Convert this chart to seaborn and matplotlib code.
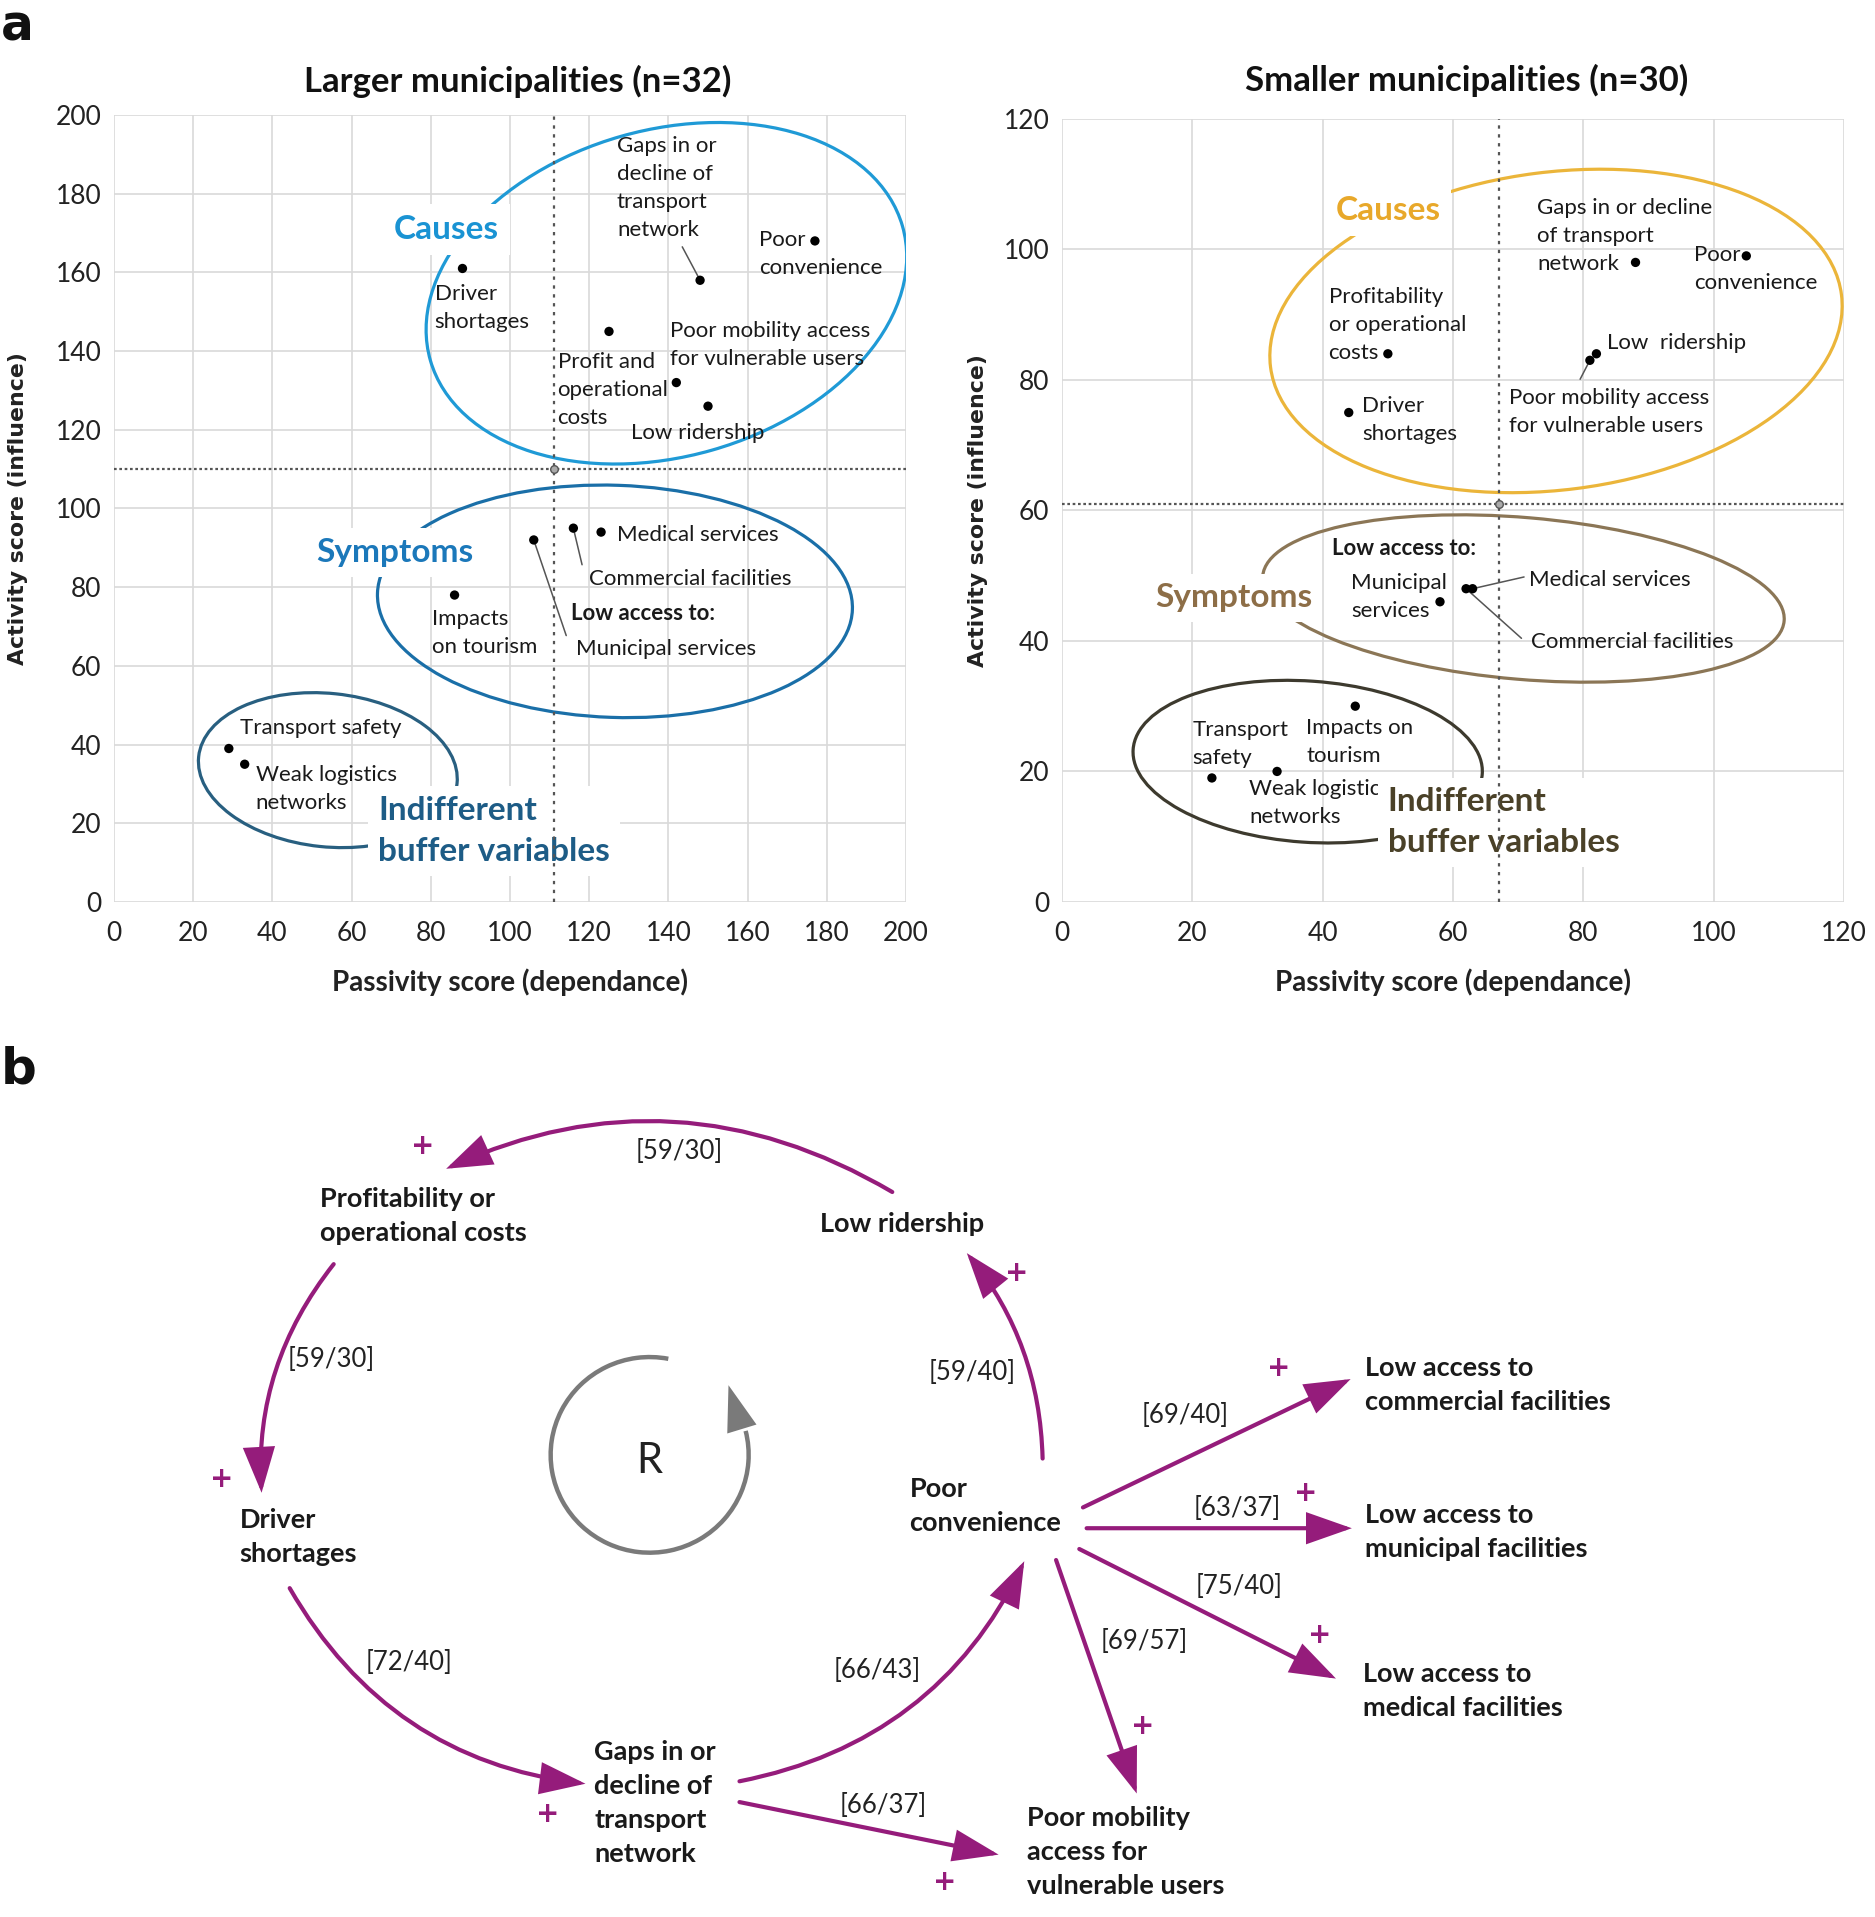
import numpy as np
import pandas as pd
import matplotlib
matplotlib.use("Agg")
import matplotlib.pyplot as plt
import seaborn as sns
from matplotlib.patches import Ellipse, Arc, FancyArrowPatch, ArrowStyle

# ------------------------------------------------------------------ data
large_vars = ["Gaps in or decline of transport network", "Poor convenience",
              "Driver shortages", "Profit and operational costs",
              "Poor mobility access for vulnerable users", "Low ridership",
              "Medical services", "Commercial facilities", "Municipal services",
              "Impacts on tourism", "Transport safety", "Weak logistics networks"]
large_passivity = [148, 177, 88, 125, 142, 150, 123, 116, 106, 86, 29, 33]
large_activity = [158, 168, 161, 145, 132, 126, 94, 95, 92, 78, 39, 35]
large_mean = [111, 110]

small_vars = ["Gaps in or decline of transport network", "Poor convenience",
              "Profitability or operational costs", "Low ridership",
              "Poor mobility access for vulnerable users", "Driver shortages",
              "Medical services", "Commercial facilities", "Municipal services",
              "Impacts on tourism", "Transport safety", "Weak logistic networks"]
small_passivity = [88, 105, 50, 82, 81, 44, 63, 62, 58, 45, 23, 33]
small_activity = [98, 99, 84, 84, 83, 75, 48, 48, 46, 30, 19, 20]
small_mean = [67, 61]

ticks_large = list(range(0, 201, 20))
ticks_small = list(range(0, 121, 20))

loop_nodes = ["Profitability or\noperational costs", "Low ridership",
              "Driver\nshortages", "Poor\nconvenience",
              "Gaps in or\ndecline of\ntransport\nnetwork",
              "Low access to\ncommercial facilities",
              "Low access to\nmunicipal facilities",
              "Low access to\nmedical facilities",
              "Poor mobility\naccess for\nvulnerable users"]
edge_from = [1, 0, 2, 4, 3, 3, 3, 3, 3, 4]
edge_to = [0, 2, 4, 3, 1, 5, 6, 7, 8, 8]
edge_labels = ["[59/30]", "[59/30]", "[72/40]", "[66/43]", "[59/40]",
               "[69/40]", "[63/37]", "[75/40]", "[69/57]", "[66/37]"]
edge_positive = [True, True, True, False, True, True, True, True, True, True]

# ------------------------------------------------------------------ style
sns.set_theme(style="whitegrid", rc={"grid.color": "#d9d9d9", "grid.linewidth": 1.2})
plt.rcParams['font.family'] = ['Lato', 'DejaVu Sans']

fig = plt.figure(figsize=(18.75, 19.17), dpi=100)

# overlay axes for diagram and panel letters (coords of a 1534x1568 canvas)
axD = fig.add_axes([0, 0, 1, 1])
axD.set_xlim(0, 1534)
axD.set_ylim(1568, 0)
axD.axis('off')

axL = fig.add_axes([0.0608, 0.5295, 0.4224, 0.4105])
axR = fig.add_axes([0.5664, 0.5295, 0.4171, 0.4085])

LBL = 16


def setup(ax, ticks, title, title_x, ylab_x, tpad):
    ax.set_xlim(ticks[0], ticks[-1])
    ax.set_ylim(ticks[0], ticks[-1])
    ax.set_xticks(ticks)
    ax.set_yticks(ticks)
    ax.tick_params(axis='both', length=0, labelsize=19, colors='#222222')
    ax.tick_params(axis='x', pad=14)
    ax.tick_params(axis='y', pad=9)
    for s in ax.spines.values():
        s.set_visible(False)
    ax.set_axisbelow(True)
    ax.set_title(title, fontsize=25, fontweight='bold', x=title_x, pad=tpad, color='#111111')
    ax.set_xlabel("Passivity score (dependance)", fontsize=20, fontweight='bold', color='#222222')
    ax.set_ylabel("Activity score (influence)", fontsize=15.8, fontweight='bold',
                  family='DejaVu Sans', color='#222222')
    ax.xaxis.set_label_coords(0.5, -0.085)
    ax.yaxis.set_label_coords(ylab_x, 0.5)


def panel(ax, names, px, py, mean, labels, leaders, groups, ellipses):
    df = pd.DataFrame({"variable": names, "passivity": px, "activity": py})
    ax.axvline(mean[0], color='#555555', ls=(0, (1.5, 2.5)), lw=1.6, zorder=4)
    ax.axhline(mean[1], color='#555555', ls=(0, (1.2, 1.2)), lw=1.6, zorder=4)
    for (cx, cy, w, h, ang, col) in ellipses:
        ax.add_patch(Ellipse((cx, cy), w, h, angle=ang, fill=False, ec=col, lw=2.3, zorder=2))
    for (txt, x, y, bold) in labels:
        ax.text(x, y, txt, ha='left', va='center', fontsize=LBL, color='#1a1a1a',
                fontweight='bold' if bold else 'normal', linespacing=1.5, zorder=3)
    for (x0, y0, x1, y1) in leaders:
        ax.plot([x0, x1], [y0, y1], color='#555555', lw=1.1, zorder=4)
    for (txt, x, y, ha, col, pad) in groups:
        ax.text(x, y, txt, ha=ha, va='center', fontsize=24, fontweight='bold', color=col,
                linespacing=1.5, zorder=3.5,
                bbox=dict(facecolor='white', edgecolor='none', pad=pad))
    sns.scatterplot(data=df, x="passivity", y="activity", ax=ax, color='black', s=45,
                    edgecolor='none', zorder=5, legend=False)
    ax.scatter([mean[0]], [mean[1]], s=30, facecolor='#aaaaaa', edgecolor='#555555',
               lw=1, zorder=5)


setup(axL, ticks_large, "Larger municipalities (n=32)", 0.51, -0.108, 16.5)
setup(axR, ticks_small, "Smaller municipalities (n=30)", 0.518, -0.095, 20)

labels_L = [
    ("Gaps in or\ndecline of\ntransport\nnetwork", 127, 181.4, False),
    ("Poor\nconvenience", 163, 164.6, False),
    ("Driver\nshortages", 81, 151, False),
    ("Profit and\noperational\ncosts", 112, 130, False),
    ("Poor mobility access\nfor vulnerable users", 140.4, 141.6, False),
    ("Low ridership", 130.6, 119.3, False),
    ("Medical services", 127, 93.2, False),
    ("Commercial facilities", 120, 82, False),
    ("Low access to:", 115.4, 73.3, True),
    ("Municipal services", 116.7, 64.3, False),
    ("Impacts\non tourism", 80.2, 68.3, False),
    ("Transport safety", 31.8, 44.1, False),
    ("Weak logistics\nnetworks", 35.8, 28.6, False),
]
leaders_L = [(143.5, 166.5, 148, 158), (118.2, 85.7, 116, 95), (114.2, 67.7, 106, 92)]
groups_L = [
    ("Causes", 84, 171, 'center', '#1a93d3', 8),
    ("Symptoms", 71, 88.8, 'center', '#1b78ba', 7),
    ("Indifferent\nbuffer variables", 66.7, 18, 'left', '#1d5c86', 7),
]
ell_L = [
    (139.5, 154.7, 124, 83, 16, '#1f9ad6'),
    (126.5, 76.4, 120, 59, -2, '#1a6fa8'),
    (54, 33.5, 65.6, 39, -6, '#285f80'),
]
panel(axL, large_vars, large_passivity, large_activity, large_mean,
      labels_L, leaders_L, groups_L, ell_L)

labels_R = [
    ("Gaps in or decline\nof transport\nnetwork", 72.9, 102, False),
    ("Poor\nconvenience", 97, 97, False),
    ("Profitability\nor operational\ncosts", 40.9, 88.4, False),
    ("Low  ridership", 83.6, 85.6, False),
    ("Poor mobility access\nfor vulnerable users", 68.6, 75.1, False),
    ("Driver\nshortages", 46.1, 73.8, False),
    ("Low access to:", 41.4, 54.1, True),
    ("Municipal\nservices", 44.4, 46.8, False),
    ("Medical services", 71.6, 49.4, False),
    ("Commercial facilities", 72, 39.9, False),
    ("Transport\nsafety", 20, 24.2, False),
    ("Impacts on\ntourism", 37.5, 24.5, False),
    ("Weak logistic\nnetworks", 28.7, 15.2, False),
]
leaders_R = [(79.5, 80.1, 81, 83), (70.9, 49.8, 63, 48), (70.5, 40.4, 62, 48)]
groups_R = [
    ("Causes", 50, 106, 'center', '#e8a82a', 8),
    ("Symptoms", 26.4, 46.6, 'center', '#8d6e47', 7),
    ("Indifferent\nbuffer variables", 50, 12.2, 'left', '#4a4128', 7),
]
ell_R = [
    (75.8, 87.5, 88.3, 48.7, 7.2, '#ebb53a'),
    (70.8, 46.5, 80.3, 24.8, -4.9, '#8b7656'),
    (37.7, 21.5, 53.7, 24.7, -4, '#3d3a2e'),
]
panel(axR, small_vars, small_passivity, small_activity, small_mean,
      labels_R, leaders_R, groups_R, ell_R)

# ------------------------------------------------------------------ diagram (b)
PURPLE = '#951c7b'
node_pos = [(262, 995), (671, 1001), (196, 1257), (744, 1232), (486, 1475),
            (1117, 1133), (1117, 1253), (1115, 1383), (840, 1515)]
for name, (x, y) in zip(loop_nodes, node_pos):
    axD.text(x, y, name, ha='left', va='center', fontsize=19.5, fontweight='bold',
             color='#1a1a1a', linespacing=1.5)

edge_geom = [  # start, end, rad, label position, plus position
    ((730, 975), (365, 956), 0.26, (556, 942), (346, 937)),
    ((273, 1034), (214, 1221), 0.19, (271, 1112), (181, 1210)),
    ((237, 1299), (479, 1459), 0.25, (335, 1360), (448, 1484)),
    ((605, 1457), (838, 1277), 0.25, (718, 1366), None),
    ((853, 1193), (791, 1025), 0.17, (795, 1123), (832, 1041)),
    ((886, 1233), (1105, 1128), 0.0, (970, 1158), (1046, 1119)),
    ((889, 1250), (1106, 1250), 0.0, (1012, 1234), (1068, 1221)),
    ((883, 1267), (1093, 1373), 0.0, (1014, 1298), (1080, 1337)),
    ((864, 1276), (930, 1467), 0.0, (936, 1343), (935, 1412)),
    ((605, 1474), (817, 1517), 0.0, (723, 1477), (773, 1539)),
]
head = ArrowStyle("-|>", head_length=2.7, head_width=0.95)
for lab, pos, (p0, p1, rad, lp, pp) in zip(edge_labels, edge_positive, edge_geom):
    arr = FancyArrowPatch(p0, p1, connectionstyle=f"arc3,rad={rad}", arrowstyle=head,
                          mutation_scale=10, color=PURPLE, lw=3.0, shrinkA=0, shrinkB=0,
                          joinstyle='miter')
    axD.add_patch(arr)
    axD.text(lp[0], lp[1], lab, ha='center', va='center', fontsize=18.5, color='#222222')
    if pos and pp is not None:
        axD.text(pp[0], pp[1], "+", ha='center', va='center', fontsize=20,
                 fontweight='bold', color=PURPLE, family='DejaVu Sans')

# reinforcing loop symbol
axD.add_patch(Arc((531.5, 1190), 162, 160, theta1=-14, theta2=281, color='#7a7a7a', lw=3.2))
axD.add_patch(FancyArrowPatch((607, 1169), (596, 1133), arrowstyle=ArrowStyle("-|>", head_length=3.3, head_width=1.1),
                              mutation_scale=10, color='#7a7a7a', lw=0, shrinkA=0, shrinkB=0))
axD.text(531, 1195, "R", ha='center', va='center', fontsize=30, color='#222222')

# panel letters
axD.text(1, 33, "a", ha='left', va='baseline', fontsize=35, fontweight='bold',
         family='DejaVu Sans', color='#111111')
axD.text(1, 886, "b", ha='left', va='baseline', fontsize=36, fontweight='bold',
         family='DejaVu Sans', color='#111111')

fig.savefig("out.png", dpi=100)
